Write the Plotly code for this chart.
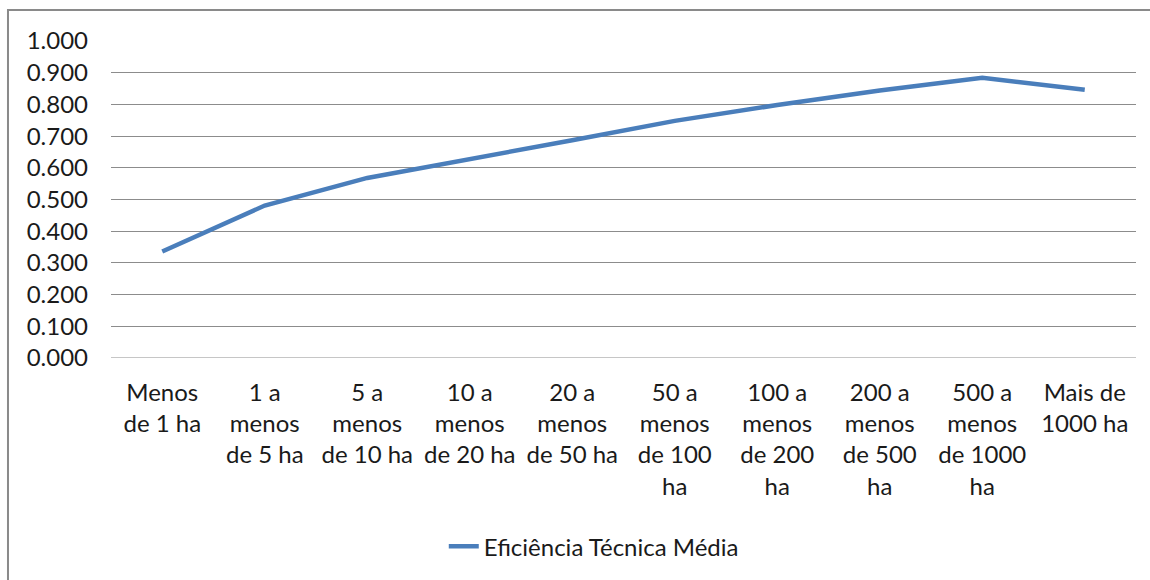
import plotly.graph_objects as go

# Farm size classes (line breaks mirror the wrapped axis labels)
categories = [
    "Menos<br>de 1 ha",
    "1 a<br>menos<br>de 5 ha",
    "5 a<br>menos<br>de 10 ha",
    "10 a<br>menos<br>de 20 ha",
    "20 a<br>menos<br>de 50 ha",
    "50 a<br>menos<br>de 100<br>ha",
    "100 a<br>menos<br>de 200<br>ha",
    "200 a<br>menos<br>de 500<br>ha",
    "500 a<br>menos<br>de 1000<br>ha",
    "Mais de<br>1000 ha",
]

# Mean technical efficiency per size class
eficiencia_media = [0.336, 0.481, 0.568, 0.626, 0.687, 0.748, 0.798, 0.844, 0.884, 0.846]

series_name = "Eficiência Técnica Média"

y_ticks = [0.0, 0.1, 0.2, 0.3, 0.4, 0.5, 0.6, 0.7, 0.8, 0.9, 1.0]
y_tick_labels = ["0.000", "0.100", "0.200", "0.300", "0.400", "0.500",
                 "0.600", "0.700", "0.800", "0.900", "1.000"]

FONT = "Lato, Calibri, sans-serif"
TEXT = "#1a1a1a"
GRID = "#8c8c8c"
LINE = "#4a7ebb"
SIZE = 24

fig = go.Figure()
fig.add_trace(go.Scatter(
    x=list(range(len(categories))),
    y=eficiencia_media,
    mode="lines",
    name=series_name,
    line=dict(color=LINE, width=4.5),
    showlegend=True,
))

fig.update_layout(
    width=1150,
    height=580,
    margin=dict(l=111, r=14, t=41, b=221),
    paper_bgcolor="white",
    plot_bgcolor="white",
    font=dict(family=FONT, size=SIZE, color=TEXT),
    xaxis=dict(
        range=[-0.5, len(categories) - 0.5],
        tickmode="array",
        tickvals=list(range(len(categories))),
        ticktext=categories,
        showgrid=False,
        zeroline=False,
        showline=False,
        ticks="",
        ticklabelstandoff=18,
        tickfont=dict(family=FONT, size=SIZE, color=TEXT),
    ),
    yaxis=dict(
        range=[0, 1],
        tickmode="array",
        tickvals=y_ticks,
        ticktext=y_tick_labels,
        showgrid=True,
        gridcolor=GRID,
        gridwidth=1,
        zeroline=False,
        showline=False,
        ticks="",
        ticklabelstandoff=22,
        tickfont=dict(family=FONT, size=SIZE, color=TEXT),
    ),
    legend=dict(
        orientation="h",
        x=0.471,
        xanchor="center",
        y=-0.59,
        yanchor="middle",
        font=dict(family=FONT, size=SIZE, color=TEXT),
        bgcolor="rgba(0,0,0,0)",
    ),
    shapes=[
        # Chart frame (continues past the right and bottom edges)
        dict(type="rect", xref="paper", yref="paper",
             x0=-0.1005, x1=1.06, y0=-0.75, y1=1.0975,
             line=dict(color="#8a8a8a", width=2), layer="below"),
        # Baseline at zero drawn as a gridline
        dict(type="line", xref="paper", yref="y",
             x0=0, x1=1, y0=0, y1=0,
             line=dict(color=GRID, width=1), layer="below"),
    ],
)

fig.write_html("out.html")
